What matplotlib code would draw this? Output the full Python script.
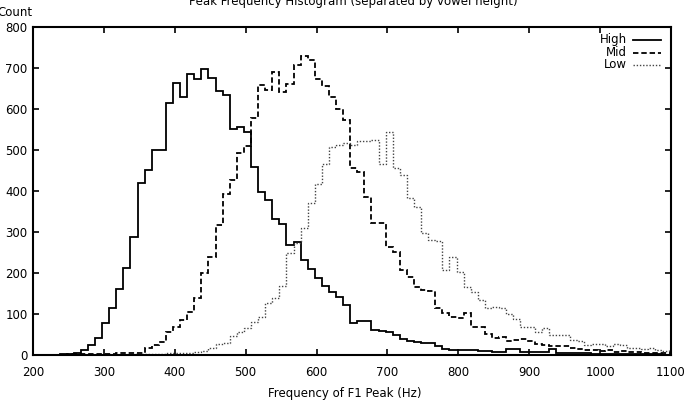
import matplotlib
matplotlib.use("Agg")
import matplotlib.pyplot as plt
from matplotlib.lines import Line2D

# Bin edges (Hz) of the 10 Hz histogram bins
bin_edges = [197.5 + 10 * i for i in range(92)]

high_counts = [
    0, 0, 0, 1, 2, 3, 4, 12, 24, 41,
    77, 114, 160, 211, 289, 419, 451, 500, 500, 614,
    664, 630, 685, 672, 697, 675, 644, 634, 550, 557,
    545, 459, 398, 378, 331, 319, 268, 276, 232, 209,
    187, 168, 154, 141, 122, 78, 82, 82, 60, 58,
    55, 48, 38, 33, 32, 30, 30, 22, 14, 12,
    12, 13, 12, 10, 10, 8, 8, 15, 15, 8,
    8, 8, 7, 14, 5, 5, 4, 4, 4, 3,
    3, 3, 3, 2, 2, 2, 2, 2, 2, 1,
    1,
]

mid_counts = [
    1, 1, 1, 1, 1, 2, 2, 2, 3, 3,
    3, 3, 4, 4, 5, 6, 16, 24, 32, 57,
    69, 85, 106, 138, 199, 240, 317, 393, 427, 492,
    510, 577, 659, 646, 691, 642, 662, 707, 730, 720,
    673, 655, 630, 600, 572, 455, 447, 386, 321, 321,
    264, 252, 207, 191, 167, 159, 155, 114, 102, 93,
    91, 102, 69, 69, 51, 41, 43, 35, 37, 39,
    33, 27, 25, 23, 22, 22, 18, 14, 13, 12,
    10, 11, 8, 9, 7, 8, 6, 6, 5, 5,
    4,
]

low_counts = [
    0, 0, 0, 0, 0, 0, 0, 0, 0, 1,
    1, 1, 1, 1, 2, 2, 2, 3, 3, 4,
    4, 5, 6, 8, 10, 17, 27, 30, 46, 57,
    67, 81, 93, 126, 138, 169, 248, 272, 309, 370,
    417, 467, 508, 513, 518, 512, 522, 522, 524, 467,
    545, 455, 439, 382, 362, 297, 280, 278, 207, 240,
    203, 167, 154, 134, 114, 117, 114, 101, 89, 69,
    69, 57, 65, 49, 49, 49, 37, 34, 24, 28,
    26, 22, 28, 24, 16, 18, 15, 18, 12, 10,
    12,
]

series_names = ["High", "Mid", "Low"]
x_ticks = [200, 300, 400, 500, 600, 700, 800, 900, 1000, 1100]
y_ticks = [0, 100, 200, 300, 400, 500, 600, 700, 800]

plt.rcParams['font.family'] = ['DejaVu Sans']

fig = plt.figure(figsize=(6.84, 4.04), dpi=100)
ax = fig.add_axes([33 / 684, (404 - 355) / 404, (671 - 33) / 684, (355 - 27) / 404])

edges = bin_edges[:len(high_counts) + 1]
styles = [
    dict(color='black', linewidth=1.3, linestyle='-'),
    dict(color='black', linewidth=1.3, linestyle=(0, (3, 1.6))),
    dict(color='#444444', linewidth=1.0, linestyle=(0, (1, 1.3))),
]
for vals, st in zip([high_counts, mid_counts, low_counts], styles):
    ax.stairs(vals, edges, baseline=None, **st)

ax.set_xlim(200, 1100)
ax.set_ylim(0, 800)
ax.set_xticks(x_ticks)
ax.set_yticks(y_ticks)
ax.tick_params(direction='in', length=4, width=1.2, top=True, right=True,
               labelsize=8.5, pad=8)
ax.tick_params(axis='y', pad=4)
for s in ax.spines.values():
    s.set_linewidth(1.5)

fig.text(345 / 684, 1 - 394 / 404, "Frequency of F1 Peak (Hz)", fontsize=8.5,
         ha='center', va='center')
fig.text(-3 / 684, 1 - 13 / 404, "Count", fontsize=8.5, ha='left', va='center')
fig.text(353 / 684, 1 - 1 / 404, "Peak Frequency Histogram (separated by vowel height)",
         fontsize=8.5, ha='center', va='center')

# legend (manual, gnuplot style)
for k, (name, st) in enumerate(zip(series_names, styles)):
    yy = 1 - (13 + 12.5 * k) / 328
    ax.text(594 / 638, yy, name, transform=ax.transAxes, ha='right', va='center', fontsize=8.5)
    ax.add_line(Line2D([600 / 638, 628 / 638], [yy, yy], transform=ax.transAxes, **st))

fig.savefig("out.png", dpi=100)
